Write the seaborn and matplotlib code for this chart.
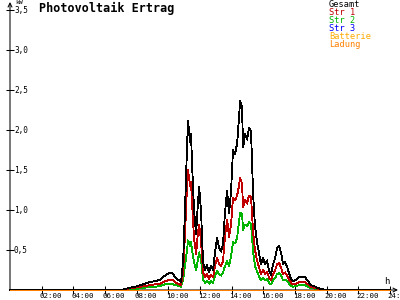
import matplotlib
matplotlib.use("Agg")
import matplotlib.pyplot as plt
import seaborn as sns
import pandas as pd

# ---- data (hours of day, kW) ----
hours = [0, 6.95, 7.26, 7.58, 7.89, 8.21, 8.53, 8.84, 9.16, 9.47, 9.79, 10.11, 10.29, 10.48,
         10.67, 10.80, 10.93, 11.05, 11.18, 11.24, 11.37, 11.43, 11.49, 11.62, 11.75, 11.87,
         11.94, 12.06, 12.19, 12.32, 12.44, 12.57, 12.69, 12.82, 12.95, 13.07, 13.20, 13.33,
         13.45, 13.58, 13.71, 13.83, 13.96, 14.08, 14.21, 14.34, 14.46, 14.53, 14.65, 14.72,
         14.84, 14.97, 15.09, 15.22, 15.35, 15.47, 15.60, 15.73, 15.85, 15.98, 16.11, 16.23,
         16.36, 16.48, 16.61, 16.74, 16.86, 16.99, 17.12, 17.24, 17.37, 17.50, 17.62, 17.75,
         17.87, 18.06, 18.25, 18.44, 18.63, 18.82, 19.01, 19.20, 19.39, 19.58, 19.83, 20.08, 24]

gesamt = [0, 0, 0.01, 0.03, 0.04, 0.06, 0.08, 0.10, 0.11, 0.13, 0.18, 0.22, 0.20, 0.15,
          0.12, 0.10, 0.35, 1.00, 1.80, 2.12, 1.85, 1.95, 1.60, 1.00, 0.70, 1.10,
          1.29, 1.00, 0.35, 0.25, 0.31, 0.22, 0.30, 0.25, 0.48, 0.65, 0.53, 0.48,
          0.58, 0.98, 1.24, 0.96, 1.24, 1.75, 1.70, 1.83, 2.15, 2.37, 2.28, 1.78,
          1.95, 1.88, 2.03, 1.98, 1.20, 0.80, 0.60, 0.45, 0.32, 0.40, 0.32, 0.37,
          0.24, 0.19, 0.32, 0.40, 0.52, 0.55, 0.46, 0.32, 0.35, 0.29, 0.21, 0.14,
          0.11, 0.13, 0.16, 0.16, 0.16, 0.11, 0.06, 0.05, 0.03, 0.015, 0.005, 0, 0]

str1 = [0, 0, 0.01, 0.02, 0.03, 0.04, 0.05, 0.06, 0.07, 0.08, 0.11, 0.13, 0.12, 0.09,
        0.07, 0.06, 0.22, 0.70, 1.30, 1.50, 1.30, 1.35, 1.10, 0.65, 0.45, 0.72,
        0.82, 0.62, 0.22, 0.16, 0.20, 0.14, 0.19, 0.16, 0.30, 0.40, 0.33, 0.30,
        0.36, 0.68, 0.88, 0.66, 0.82, 1.15, 1.12, 1.18, 1.30, 1.40, 1.33, 1.03,
        1.13, 1.08, 1.18, 1.16, 0.72, 0.50, 0.37, 0.28, 0.20, 0.25, 0.20, 0.23,
        0.15, 0.12, 0.20, 0.25, 0.32, 0.34, 0.28, 0.20, 0.22, 0.18, 0.13, 0.09,
        0.07, 0.08, 0.10, 0.10, 0.10, 0.07, 0.04, 0.03, 0.02, 0.01, 0.005, 0, 0]

str2 = [0, 0, 0.0, 0.01, 0.01, 0.02, 0.03, 0.04, 0.04, 0.05, 0.07, 0.08, 0.07, 0.06,
        0.05, 0.04, 0.13, 0.30, 0.50, 0.62, 0.55, 0.60, 0.50, 0.35, 0.25, 0.38,
        0.47, 0.38, 0.13, 0.09, 0.11, 0.08, 0.11, 0.09, 0.18, 0.24, 0.20, 0.18,
        0.22, 0.30, 0.36, 0.30, 0.42, 0.60, 0.58, 0.65, 0.85, 0.97, 0.95, 0.75,
        0.82, 0.80, 0.85, 0.82, 0.48, 0.30, 0.23, 0.17, 0.12, 0.15, 0.12, 0.14,
        0.09, 0.07, 0.12, 0.15, 0.20, 0.21, 0.18, 0.12, 0.13, 0.11, 0.08, 0.05,
        0.04, 0.05, 0.06, 0.06, 0.06, 0.04, 0.02, 0.02, 0.01, 0.005, 0, 0, 0]

str3 = [0] * len(hours)
batterie = [0] * len(hours)
ladung = [0] * len(hours)

series_names = ["Gesamt", "Str 1", "Str 2", "Str 3", "Batterie", "Ladung"]
series_colors = ["#000000", "#c00000", "#00b400", "#0000ff", "#ffaa00", "#ff8000"]

y_ticks = [0.5, 1.0, 1.5, 2.0, 2.5, 3.0, 3.5]
y_labels = ["0,5", "1,0", "1,5", "2,0", "2,5", "3,0", "3,5"]
x_ticks = [2, 4, 6, 8, 10, 12, 14, 16, 18, 20, 22, 24]
x_labels = ["02:00", "04:00", "06:00", "08:00", "10:00", "12:00", "14:00",
            "16:00", "18:00", "20:00", "22:00", "24:00"]
title = "Photovoltaik Ertrag"

# ---- build long table ----
frames = []
for name, vals in zip(series_names, [gesamt, str1, str2, str3, batterie, ladung]):
    frames.append(pd.DataFrame({"h": hours, "kW": vals, "serie": name}))
df = pd.concat(frames, ignore_index=True)

sns.set_style("white")
plt.rcParams["font.family"] = ["DejaVu Sans Mono", "DejaVu Sans"]

fig = plt.figure(figsize=(4, 3), dpi=100)
ax = fig.add_axes([10 / 400, 10 / 300, 388 / 400, 288 / 300])
ax.set_xlim(0, 24.5)
ax.set_ylim(0, 3.6)
for s in ax.spines.values():
    s.set_visible(False)

# axes with arrows (drawn below the data lines)
arrow_kw = dict(arrowstyle="->", lw=0.75, color="black", mutation_scale=7,
                shrinkA=0, shrinkB=0)
a1 = ax.annotate("", xy=(0, 3.6), xytext=(0, 0), xycoords="data",
                 arrowprops=arrow_kw, annotation_clip=False)
a2 = ax.annotate("", xy=(24.5, 0), xytext=(0, 0), xycoords="data",
                 arrowprops=arrow_kw, annotation_clip=False)
a1.set_zorder(1)
a2.set_zorder(1)

order = ["Str 3", "Str 2", "Str 1", "Gesamt", "Batterie", "Ladung"]
pal = dict(zip(series_names, series_colors))
sns.lineplot(data=df, x="h", y="kW", hue="serie", hue_order=order, palette=pal,
             estimator=None, sort=False, legend=False, linewidth=0.6, ax=ax,
             clip_on=False)
for ln in ax.get_lines():
    ln.set_antialiased(False)
    ln.set_zorder(3)

# ticks crossing the axes
ax.set_xticks(x_ticks)
ax.set_yticks(y_ticks)
ax.set_xticklabels([])
ax.set_yticklabels([])
ax.tick_params(axis="both", direction="inout", length=6, width=0.75, color="black",
               bottom=True, left=True)
ax.set_xlabel("")
ax.set_ylabel("")

for t, lab in zip(x_ticks, x_labels):
    ax.text(t + 0.57, -0.075, lab, ha="center", va="center", fontsize=5.4,
            color="black", clip_on=False)
for v, lab in zip(y_ticks, y_labels):
    ax.text(0.25, v, lab, ha="left", va="center", fontsize=5.6, color="black")
ax.text(0.3, 3.59, "kW", ha="left", va="center", fontsize=4.6, color="black",
        clip_on=False)
ax.text(23.8, 0.1, "h", ha="center", va="center", fontsize=6.5, color="black")

ax.text(1.83, 3.525, title, ha="left", va="center", fontsize=8.5,
        fontweight="bold", color="black")

for i, (name, col) in enumerate(zip(series_names, series_colors)):
    y = (290 - (4.5 + 8 * i)) / 80
    ax.text(20.15, y, name, ha="left", va="center", fontsize=6.2, color=col)

fig.savefig("out.png", dpi=100)
